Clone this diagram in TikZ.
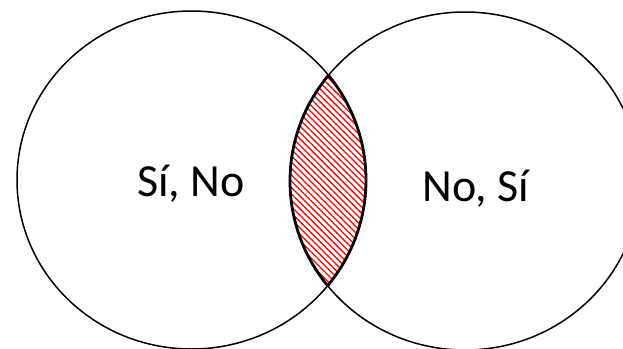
\documentclass[tikz,border=0pt]{standalone}
\usepackage{fontspec}
\setmainfont{Carlito}
\usetikzlibrary{patterns.meta}
\begin{document}
\begin{tikzpicture}[x=1pt,y=-1pt,
  ring/.style={draw=black,line width=1.5pt},
  rim/.style={draw=black,line width=2.8pt},
  lbl/.style={font=\fontsize{46}{50}\selectfont,inner sep=0pt,anchor=base}]
\useasboundingbox (0,0) rectangle (623,348);
\clip (0,0) rectangle (623,348);
\def\Lpath{(191.5,180) ellipse [x radius=174.5, y radius=169]}
\def\Rpath{(465,181) ellipse [x radius=175, y radius=169]}
\begin{scope}
  \clip \Lpath;
  \fill[pattern={Lines[angle=-45,distance=4.5pt,line width=1.3pt]},pattern color=red] \Rpath;
\end{scope}
\draw[ring] \Lpath;
\draw[ring] \Rpath;
\begin{scope}
  \clip \Lpath;
  \draw[rim] \Rpath;
\end{scope}
\begin{scope}
  \clip \Rpath;
  \draw[rim] \Lpath;
\end{scope}
\node[lbl] (left) at (191,196.5) {Sí, No};
\node[lbl] (right) at (476,201.5) {No, Sí};
\end{tikzpicture}
\end{document}
